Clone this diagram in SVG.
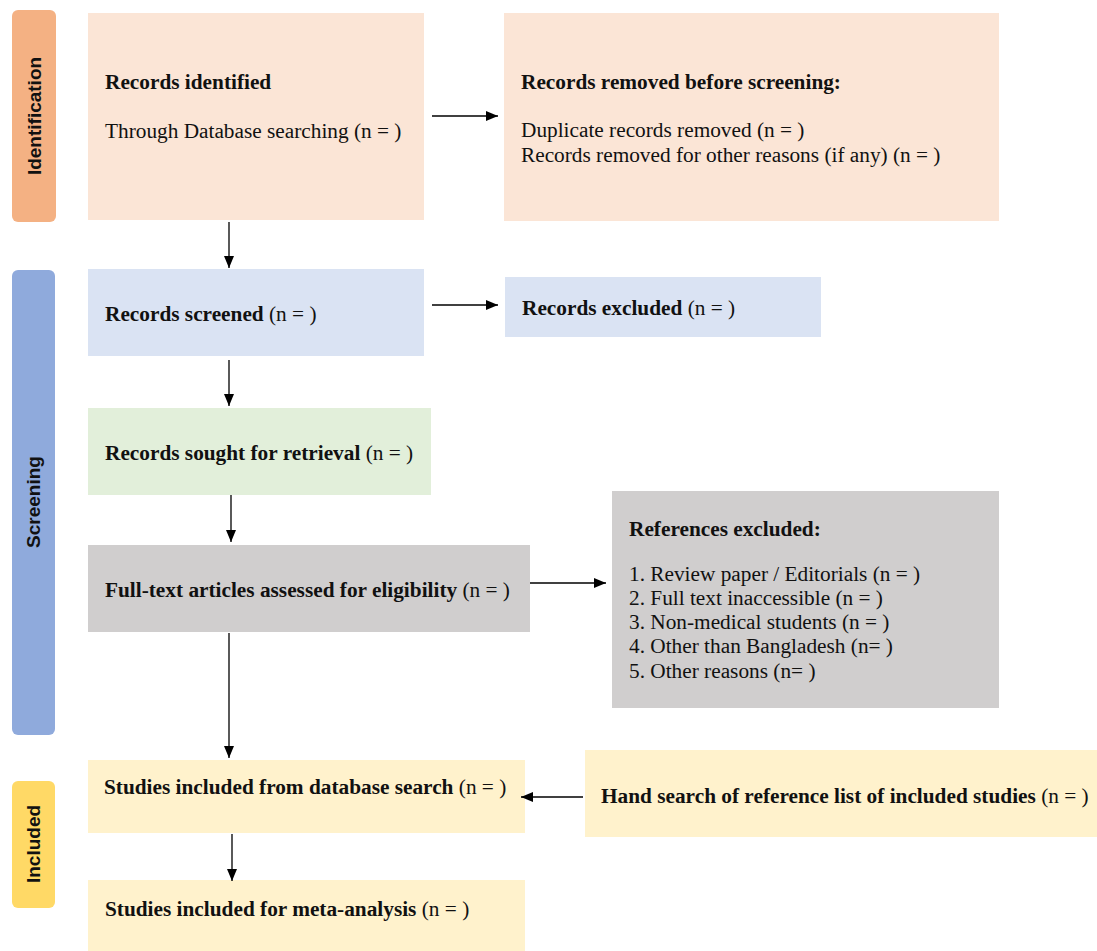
<svg xmlns="http://www.w3.org/2000/svg" width="1097" height="951" viewBox="0 0 1097 951">
<style>
.t{font-family:"Liberation Serif","Times New Roman",serif;font-size:21.3px;fill:#111}
.b{font-weight:bold}
.lab{font-family:"Liberation Sans",Arial,sans-serif;font-size:19px;font-weight:bold;fill:#111}
.c{stroke:#000;stroke-width:1.3;fill:none;marker-end:url(#ah)}
</style>
<defs>
<marker id="ah" markerWidth="12" markerHeight="10" refX="12" refY="5" orient="auto" markerUnits="userSpaceOnUse">
<path d="M0,0 L12,5 L0,10 Z" fill="#000"/>
</marker>
</defs>
<rect width="1097" height="951" fill="#fff"/>
<g id="phase-identification">
<rect x="12" y="10" width="44" height="212" rx="6" fill="#F4B183"/>
<text class="lab" transform="translate(41,116) rotate(-90)" text-anchor="middle">Identification</text>
</g>
<g id="phase-screening">
<rect x="12" y="270" width="43" height="465" rx="6" fill="#8FAADC"/>
<text class="lab" transform="translate(40,502) rotate(-90)" text-anchor="middle">Screening</text>
</g>
<g id="phase-included">
<rect x="12" y="781" width="43" height="127" rx="6" fill="#FFD966"/>
<text class="lab" transform="translate(40,844) rotate(-90)" text-anchor="middle">Included</text>
</g>
<g id="n-identified">
<rect x="88" y="13" width="336" height="207" fill="#FBE5D6"/>
<text class="t b" x="105" y="89">Records identified</text>
<text class="t" x="105" y="138">Through Database searching (n = )</text>
</g>
<g id="n-removed">
<rect x="504" y="13" width="495" height="208" fill="#FBE5D6"/>
<text class="t b" x="521" y="89">Records removed before screening:</text>
<text class="t" x="521" y="137">Duplicate records removed (n = )</text>
<text class="t" x="521" y="162">Records removed for other reasons (if any) (n = )</text>
</g>
<g id="n-screened">
<rect x="88" y="269" width="336" height="87" fill="#DAE3F3"/>
<text class="t" x="105" y="321"><tspan class="b">Records screened</tspan> (n = )</text>
</g>
<g id="n-excluded">
<rect x="505" y="277" width="316" height="60" fill="#DAE3F3"/>
<text class="t" x="522" y="315"><tspan class="b">Records excluded</tspan> (n = )</text>
</g>
<g id="n-sought">
<rect x="88" y="408" width="343" height="87" fill="#E2EFDA"/>
<text class="t" x="105" y="460"><tspan class="b">Records sought for retrieval</tspan> (n = )</text>
</g>
<g id="n-fulltext">
<rect x="88" y="545" width="442" height="87" fill="#D0CECE"/>
<text class="t" x="105" y="597"><tspan class="b">Full-text articles assessed for eligibility</tspan> (n = )</text>
</g>
<g id="n-refexcluded">
<rect x="612" y="491" width="387" height="217" fill="#D0CECE"/>
<text class="t b" x="629" y="536">References excluded:</text>
<text class="t" x="629" y="581">1. Review paper / Editorials (n = )</text>
<text class="t" x="629" y="605">2. Full text inaccessible (n = )</text>
<text class="t" x="629" y="629">3. Non-medical students (n = )</text>
<text class="t" x="629" y="653">4. Other than Bangladesh (n= )</text>
<text class="t" x="629" y="678">5. Other reasons (n= )</text>
</g>
<g id="n-included-db">
<rect x="88" y="760" width="437" height="73" fill="#FFF2CC"/>
<text class="t" x="104" y="794"><tspan class="b">Studies included from database search</tspan> (n = )</text>
</g>
<g id="n-hand">
<rect x="585" y="750" width="512" height="87" fill="#FFF2CC"/>
<text class="t" x="601" y="803"><tspan class="b">Hand search of reference list of included studies</tspan> (n = )</text>
</g>
<g id="n-meta">
<rect x="88" y="880" width="437" height="71" fill="#FFF2CC"/>
<text class="t" x="105" y="916"><tspan class="b">Studies included for meta-analysis</tspan> (n = )</text>
</g>
<g id="connectors">
<line class="c" x1="432" y1="116" x2="498" y2="116"/>
<line class="c" x1="229" y1="222" x2="229" y2="268"/>
<line class="c" x1="432" y1="305" x2="498" y2="305"/>
<line class="c" x1="229" y1="360" x2="229" y2="406"/>
<line class="c" x1="231" y1="495" x2="231" y2="542"/>
<line class="c" x1="530" y1="583" x2="606" y2="583"/>
<line class="c" x1="229" y1="633" x2="229" y2="758"/>
<line class="c" x1="583" y1="797" x2="521" y2="797"/>
<line class="c" x1="232" y1="834" x2="232" y2="881"/>
</g>
</svg>
